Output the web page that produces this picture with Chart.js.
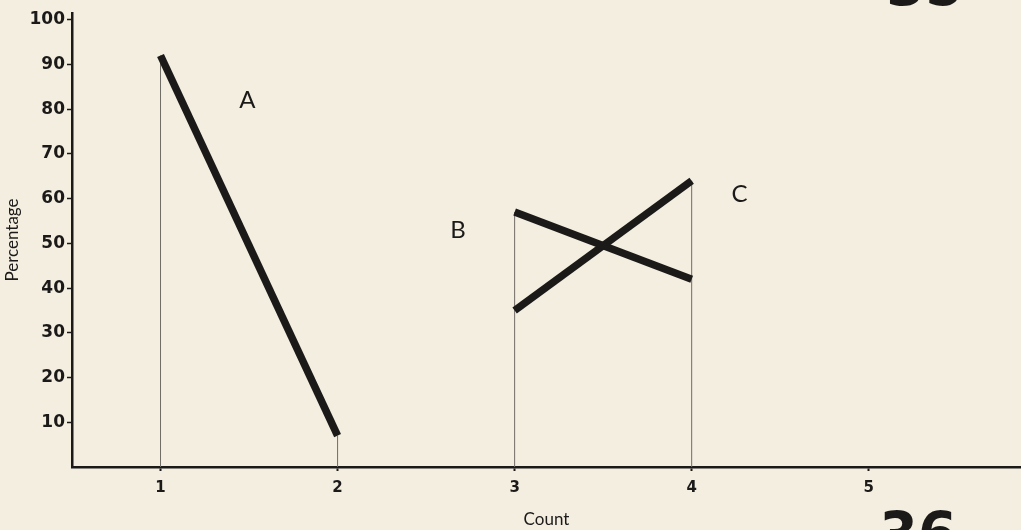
<!DOCTYPE html>
<html>
<head>
<meta charset="utf-8">
<script src="https://cdn.jsdelivr.net/npm/chart.js@4.4.1/dist/chart.umd.min.js"></script>
<style>
  html, body { margin: 0; padding: 0; background: #f3eee0; }
  #wrap { width: 1021px; height: 530px; position: relative; }
</style>
</head>
<body>
<div id="wrap"><canvas id="chart"></canvas></div>
<script>
// counts on the x axis and the percentage at each end of a segment
const countTicks = [1, 2, 3, 4, 5];
const percentTicks = [10, 20, 30, 40, 50, 60, 70, 80, 90, 100];

const segA = [{ x: 1, y: 92 }, { x: 2, y: 7 }];
const segB = [{ x: 3, y: 57 }, { x: 4, y: 42 }];
const segC = [{ x: 3, y: 35 }, { x: 4, y: 64 }];

// thin drop lines from the baseline up to where each segment starts/ends
const dropTops = [{ x: 1, y: 92 }, { x: 2, y: 7 }, { x: 3, y: 57 }, { x: 4, y: 64 }];

const segLabels = [
  { text: "A", x: 1.49, y: 82 },
  { text: "B", x: 2.68, y: 53 },
  { text: "C", x: 4.27, y: 61 },
];

const ink = "#1b1a19";
const font = "Lato, 'Open Sans', sans-serif";
const tickFont = "'DejaVu Sans', sans-serif";

const dropSets = dropTops.map((p) => ({
  data: [{ x: p.x, y: 0 }, p],
  borderColor: "#6f6c66",
  borderWidth: 1,
  pointRadius: 0,
  order: 2,
}));

const segSet = (data) => ({
  data: data,
  borderColor: ink,
  borderWidth: 7.5,
  borderCapStyle: "butt",
  pointRadius: 0,
  order: 1,
});

// letters next to the segments plus the page numbers in the corners
const annotations = {
  id: "annotations",
  afterDatasetsDraw(chart) {
    const { ctx, scales } = chart;
    ctx.save();
    ctx.fillStyle = ink;
    ctx.textAlign = "center";
    ctx.textBaseline = "middle";
    ctx.font = "24px " + font;
    segLabels.forEach((l) => {
      ctx.fillText(l.text, scales.x.getPixelForValue(l.x), scales.y.getPixelForValue(l.y));
    });
    ctx.font = "bold 62px 'Liberation Sans Narrow', 'DejaVu Sans Condensed', sans-serif";
    ctx.textBaseline = "alphabetic";
    ctx.fillText("35", 925, 5);
    ctx.fillText("36", 918, 556);
    ctx.restore();
  },
};

new Chart(document.getElementById("chart"), {
  type: "line",
  data: {
    datasets: [...dropSets, segSet(segA), segSet(segB), segSet(segC)],
  },
  plugins: [annotations],
  options: {
    responsive: true,
    maintainAspectRatio: false,
    animation: false,
    events: [],
    layout: { padding: { top: 13, right: 0, left: 0, bottom: 0 } },
    plugins: {
      legend: { display: false },
      tooltip: { enabled: false },
    },
    scales: {
      x: {
        type: "linear",
        min: 0.5,
        max: 5.86,
        afterBuildTicks: (s) => { s.ticks = countTicks.map((v) => ({ value: v })); },
        afterFit: (s) => { s.height = 63; },
        border: { color: ink, width: 2.5 },
        grid: { drawOnChartArea: false, tickLength: 4, color: ink, tickWidth: 2 },
        ticks: { color: ink, padding: 8, font: { family: tickFont, size: 15, weight: "bold" } },
        title: {
          display: true,
          text: "Count",
          color: ink,
          padding: { top: 10, bottom: 0 },
          font: { family: font, size: 17 },
        },
      },
      y: {
        min: 0,
        max: 101.5,
        afterBuildTicks: (s) => { s.ticks = percentTicks.map((v) => ({ value: v })); },
        afterFit: (s) => { s.width = 72; },
        border: { color: ink, width: 2.5 },
        grid: { drawOnChartArea: false, tickLength: 5, color: ink, tickWidth: 1.5 },
        ticks: { color: ink, padding: 2, font: { family: tickFont, size: 17, weight: "bold" } },
        title: {
          display: true,
          text: "Percentage",
          color: ink,
          padding: { top: 2, bottom: 0 },
          font: { family: font, size: 17 },
        },
      },
    },
  },
});
</script>
</body>
</html>
